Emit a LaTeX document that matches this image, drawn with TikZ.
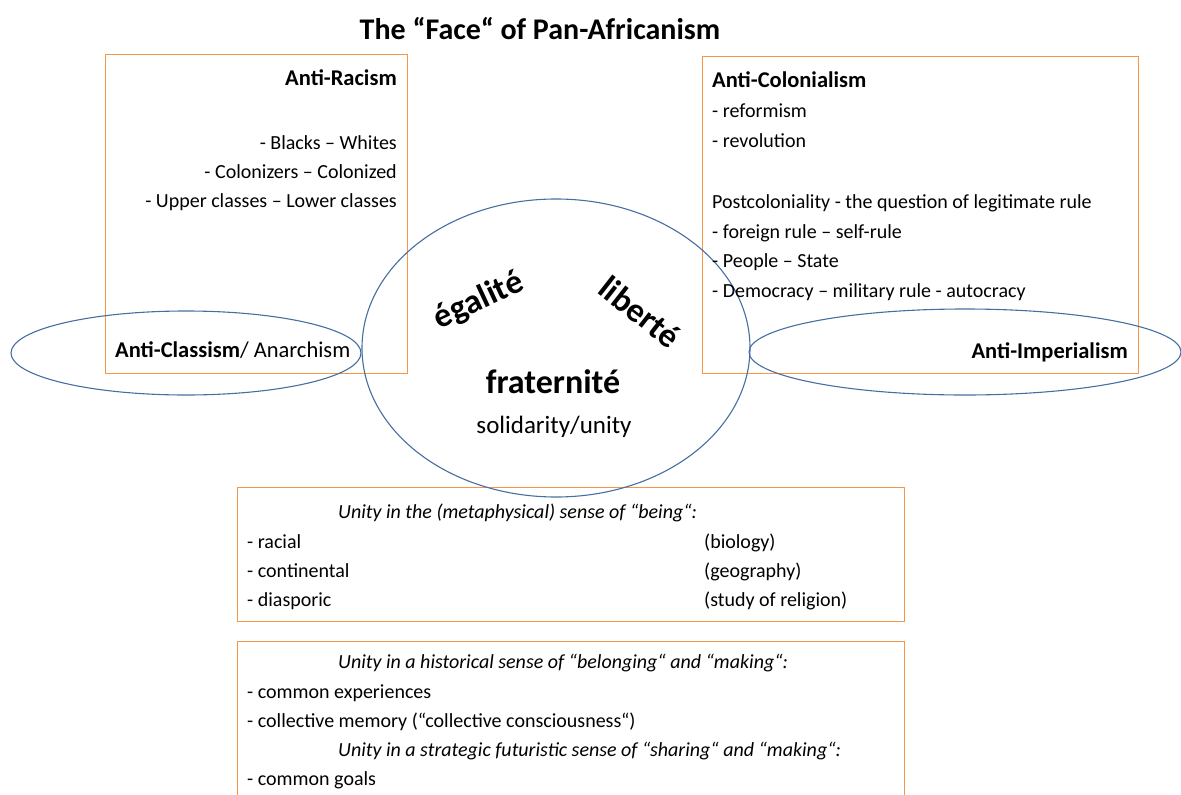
\documentclass[tikz,border=0pt]{standalone}
\usepackage{fontspec}
\setmainfont{Carlito}
\definecolor{boxor}{RGB}{247,150,70}
\definecolor{ellbl}{RGB}{70,110,160}
\begin{document}
\begin{tikzpicture}[x=1pt,y=-1pt,
  box/.style={draw=boxor,line width=1pt},
  ell/.style={draw=ellbl,line width=1.1pt},
  body/.style={font=\fontsize{20}{24}\selectfont,inner sep=0pt},
  bodyit/.style={font=\fontsize{20}{24}\selectfont\itshape,inner sep=0pt},
  head/.style={font=\fontsize{22.5}{27}\selectfont\bfseries,inner sep=0pt},
  big/.style={font=\fontsize{34}{40}\selectfont\bfseries,inner sep=0pt}]
\useasboundingbox (0,0) rectangle (1181,795);
\clip (0,0) rectangle (1181,795);
% title
\node[inner sep=0pt,font=\fontsize{30}{36}\selectfont\bfseries,anchor=base] (title) at (540,39) {The “Face“ of Pan-Africanism};
% boxes
\draw[box] (105,54) rectangle (407,373);
\draw[box] (702,56) rectangle (1138,373);
\draw[box] (237,487) rectangle (904,621);
\draw[box] (237,641) rectangle (904,820);
% ellipses
\draw[ell] (556,348) ellipse [x radius=194, y radius=149];
\draw[ell] (186,353) ellipse [x radius=175, y radius=42];
\draw[ell] (965,352) ellipse [x radius=216, y radius=43];
% left box
\node[head,anchor=base east] (antiracism) at (397,85) {Anti-Racism};
\node[body,anchor=base east] (r1) at (397,149) {- Blacks – Whites};
\node[body,anchor=base east] (r2) at (397,178) {- Colonizers – Colonized};
\node[body,anchor=base east] (r3) at (397,207) {- Upper classes – Lower classes};
\node[body,anchor=base west] (anticlass) at (115,357) {\fontsize{22.5}{27}\selectfont\bfseries Anti-Classism\mdseries/ Anarchism};
% right box
\node[head,anchor=base west] (anticol) at (712,87) {Anti-Colonialism};
\node[body,anchor=base west] (c1) at (712,117) {- reformism};
\node[body,anchor=base west] (c2) at (712,147) {- revolution};
\node[body,anchor=base west] (c3) at (712,208) {Postcoloniality - the question of legitimate rule};
\node[body,anchor=base west] (c4) at (712,238) {- foreign rule – self-rule};
\node[body,anchor=base west] (c5) at (712,267) {- People – State};
\node[body,anchor=base west] (c6) at (712,297) {- Democracy – military rule - autocracy};
\node[head,anchor=base east] (antiimp) at (1128,358) {Anti-Imperialism};
% centre
\node[big,rotate=25] (egal) at (479,301) {égalité};
\node[big,rotate=-38] (lib) at (640,312) {liberté};
\node[big,anchor=base] (frat) at (553,393) {fraternité};
\node[inner sep=0pt,font=\fontsize{25}{30}\selectfont,anchor=base] (sol) at (554,433) {solidarity/unity};
% bottom box 1
\node[bodyit,anchor=base west] (b0) at (338,518) {Unity in the (metaphysical) sense of “being“:};
\node[body,anchor=base west] (b1) at (247,548) {- racial};
\node[body,anchor=base west] (b2) at (247,577) {- continental};
\node[body,anchor=base west] (b3) at (247,606) {- diasporic};
\node[body,anchor=base west] (b1r) at (704,548) {(biology)};
\node[body,anchor=base west] (b2r) at (704,577) {(geography)};
\node[body,anchor=base west] (b3r) at (704,606) {(study of religion)};
% bottom box 2
\node[bodyit,anchor=base west] (h0) at (338,668) {Unity in a historical sense of “belonging“ and “making“:};
\node[body,anchor=base west] (h1) at (247,698) {- common experiences};
\node[body,anchor=base west] (h2) at (247,727) {- collective memory (“collective consciousness“)};
\node[bodyit,anchor=base west] (h3) at (338,756) {Unity in a strategic futuristic sense of “sharing“ and “making“:};
\node[body,anchor=base west] (h4) at (247,785) {- common goals};
\end{tikzpicture}
\end{document}
